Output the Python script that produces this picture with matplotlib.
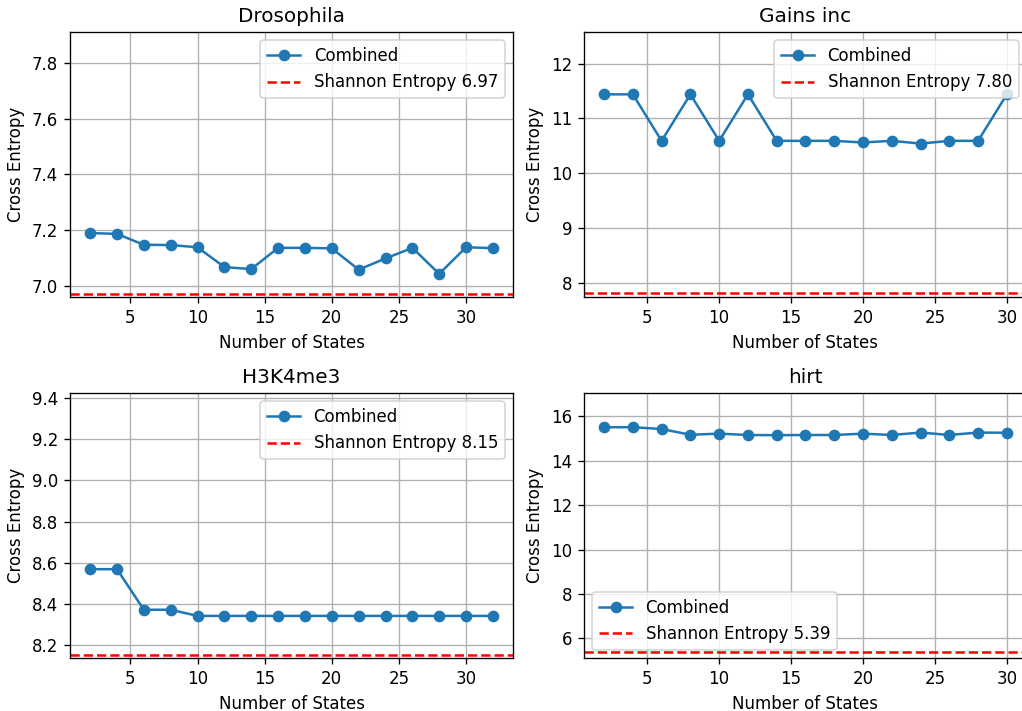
import matplotlib
matplotlib.use('Agg')
import matplotlib.pyplot as plt
from matplotlib.transforms import Bbox

# number of states tried for each data set
STATES_LONG = [2, 4, 6, 8, 10, 12, 14, 16, 18, 20, 22, 24, 26, 28, 30, 32]
STATES_SHORT = [2, 4, 6, 8, 10, 12, 14, 16, 18, 20, 22, 24, 26, 28, 30]

DROSOPHILA_CE = [7.190, 7.187, 7.148, 7.147, 7.139, 7.068, 7.061, 7.137,
                 7.137, 7.135, 7.059, 7.099, 7.137, 7.044, 7.139, 7.136]
GAINS_CE = [11.44, 11.44, 10.59, 11.44, 10.59, 11.44, 10.59, 10.59,
            10.59, 10.56, 10.59, 10.54, 10.59, 10.59, 11.44]
H3K4ME3_CE = [8.569, 8.569, 8.372, 8.372, 8.342, 8.342, 8.342, 8.342,
              8.342, 8.342, 8.342, 8.342, 8.342, 8.342, 8.342, 8.342]
HIRT_CE = [15.51, 15.51, 15.43, 15.17, 15.22, 15.16, 15.15, 15.16,
           15.16, 15.22, 15.16, 15.27, 15.16, 15.27, 15.26]

NAMES = ['Drosophila', 'Gains inc', 'H3K4me3', 'hirt']
SHANNON = [6.97, 7.80, 8.15, 5.39]
YLIMS = [(6.96, 7.91), (7.73, 12.58), (8.136, 9.425), (5.10, 17.05)]
LEGEND_LOC = ['upper right', 'upper right', 'upper right', 'lower left']

DPI = 120
FULL_W_PX = 1040  # wider than the saved image, the right column gets cut off
H_PX = 711


def draw_panel(axes, states, ce, name, shannon, ylim, loc):
    axes.plot(states, ce, marker='o', label='Combined')
    axes.axhline(shannon, color='r', linestyle='--',
                 label='Shannon Entropy %.2f' % shannon)
    axes.set_ylim(ylim)
    axes.set_title(name)
    axes.set_xlabel('Number of States')
    axes.set_ylabel('Cross Entropy')
    axes.grid(True)
    axes.legend(loc=loc)


fig, axs = plt.subplots(2, 2, figsize=(FULL_W_PX / DPI, H_PX / DPI), dpi=DPI)
fig.subplots_adjust(left=70 / FULL_W_PX, right=1027 / FULL_W_PX,
                    bottom=52.7 / H_PX, top=(H_PX - 32) / H_PX,
                    wspace=0.16, hspace=0.361)

all_states = [STATES_LONG, STATES_SHORT, STATES_LONG, STATES_SHORT]
all_ce = [DROSOPHILA_CE, GAINS_CE, H3K4ME3_CE, HIRT_CE]

for i, axes in enumerate(axs.flat):
    draw_panel(axes, all_states[i], all_ce[i], NAMES[i], SHANNON[i],
               YLIMS[i], LEGEND_LOC[i])

plt.savefig('out.png', dpi=DPI,
            bbox_inches=Bbox.from_bounds(0, 0, 1022 / DPI, H_PX / DPI))
